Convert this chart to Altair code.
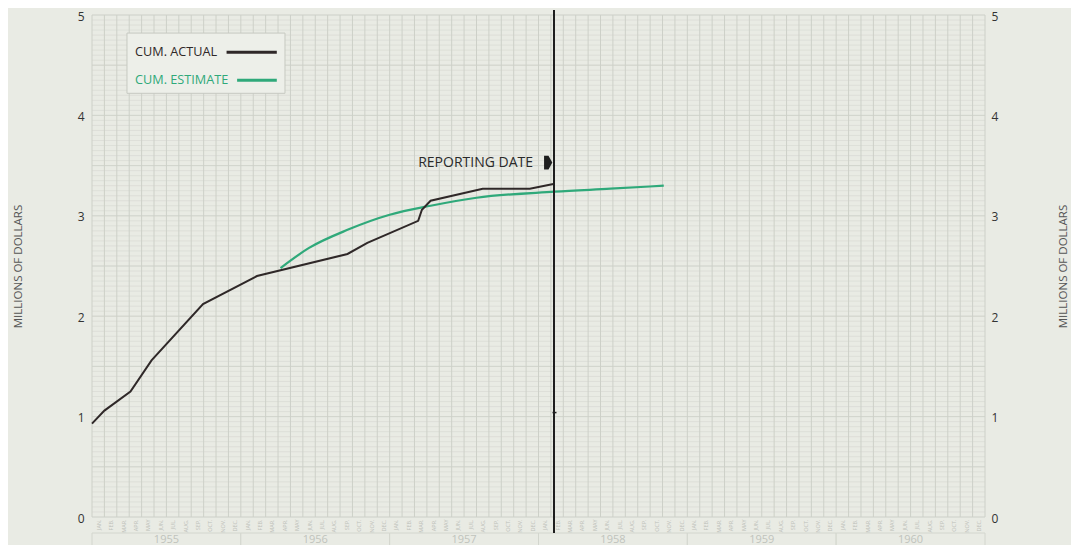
import altair as alt
import pandas as pd
import numpy as np

# ---- data ----
actual_month = [0, 1, 3.1, 4.8, 8.95, 13.3, 20.6, 22.2, 26.3, 26.6, 27.3, 31.5, 35.3, 37.3]
actual_value = [0.93, 1.06, 1.25, 1.56, 2.12, 2.40, 2.62, 2.73, 2.95, 3.06, 3.15, 3.27, 3.27, 3.32]

est_month = [15.2, 17.5, 20.6, 24.0, 27.3, 31.0, 37.3, 41.8, 46.1]
est_value = [2.48, 2.68, 2.86, 3.01, 3.10, 3.18, 3.24, 3.27, 3.30]

years = ["1955", "1956", "1957", "1958", "1959", "1960"]
month_names = ["JAN.", "FEB.", "MAR.", "APR.", "MAY", "JUN.", "JUL.", "AUG.", "SEP.", "OCT.", "NOV.", "DEC."]
y_ticks = [0, 1, 2, 3, 4, 5]
reporting_month = 37.25

BG = "#e9ebe4"
FONT = "Open Sans"
GREEN = "#2fa97a"
DARK = "#2f2828"

x_scale = alt.Scale(domain=[0, 72], nice=False, zero=False)
y_scale = alt.Scale(domain=[0, 5], nice=False)

actual_df = pd.DataFrame({"m": actual_month, "v": actual_value})
est_df = pd.DataFrame({"m": est_month, "v": est_value})
vgrid_df = pd.DataFrame({"m": np.arange(0, 73)})
hgrid_df = pd.DataFrame({"v": np.round(np.arange(0, 5.0001, 0.05), 3)})
hmajor_df = pd.DataFrame({"v": np.arange(0, 5.0001, 0.5)})
year_df = pd.DataFrame({"year": years, "s": [12 * i for i in range(6)], "e": [12 * i + 12 for i in range(6)]})
year_df["c"] = year_df["s"] + 6
month_tick_vals = [i + 0.5 for i in range(72)]
labels_js = "[" + ",".join("'%s'" % m for m in month_names) + "]"

x_axis = alt.Axis(values=month_tick_vals, labelExpr=labels_js + "[floor(datum.value) % 12]",
                  labelAngle=270, labelFontSize=5.5, labelColor="#bdc0b9", labelFont=FONT,
                  labelPadding=2, ticks=False, domain=False, grid=False, title=None,
                  labelOverlap=False, labelFlush=False)

y_axis = alt.Axis(values=y_ticks, format="d", orient="left", ticks=False, domain=False,
                  grid=False, labelFontSize=12, labelColor="#333333", labelFont=FONT,
                  labelPadding=8, labelOffset=1, title="MILLIONS OF DOLLARS", titleFont=FONT,
                  titleFontSize=11.5, titleFontWeight="normal", titleColor="#555555",
                  titlePadding=54)

X = lambda f: alt.X(f, scale=x_scale, axis=x_axis)
Y = lambda f: alt.Y(f, scale=y_scale, axis=y_axis)

vgrid = alt.Chart(vgrid_df).mark_rule(color="#cdd0c8", strokeWidth=1).encode(x=X("m:Q"))

hgrid = alt.Chart(hgrid_df).mark_rule(color="#dadcd5", strokeWidth=0.8).encode(y=Y("v:Q"))

hmajor = alt.Chart(hmajor_df).mark_rule(color="#d2d5cd", strokeWidth=1).encode(y=Y("v:Q"))

years_box = alt.Chart(year_df).mark_rect(fill=BG, stroke="#d3d6ce", strokeWidth=1).encode(
    x=X("s:Q"), x2="e:Q", y=alt.value(518), y2=alt.value(560))

years_text = alt.Chart(year_df).mark_text(font=FONT, fontSize=11, color="#c0c3bc", baseline="top").encode(
    x=X("c:Q"), y=alt.value(519), text="year:N")

est_line = alt.Chart(est_df).mark_line(color=GREEN, strokeWidth=2.2, interpolate="monotone").encode(
    x=X("m:Q"), y=Y("v:Q"))

act_line = alt.Chart(actual_df).mark_line(color=DARK, strokeWidth=2).encode(
    x=X("m:Q"), y=Y("v:Q"))

rep_df = pd.DataFrame({"m": [reporting_month]})
rep_rule = alt.Chart(rep_df).mark_rule(color="#1e1e1e", strokeWidth=2).encode(
    x=X("m:Q"), y=alt.value(-5), y2=alt.value(518))

rep_tick_df = pd.DataFrame({"m": [reporting_month - 0.12], "m2": [reporting_month + 0.2], "v": [1.04]})
rep_tick = alt.Chart(rep_tick_df).mark_rule(color="#1e1e1e", strokeWidth=1.5).encode(
    x=X("m:Q"), x2="m2:Q", y=Y("v:Q"))

rep_text_df = pd.DataFrame({"m": [35.56], "v": [3.525], "t": ["REPORTING  DATE"]})
rep_text = alt.Chart(rep_text_df).mark_text(font=FONT, fontSize=14, color="#2a2a2a", align="right",
                                              baseline="middle").encode(
    x=X("m:Q"), y=Y("v:Q"), text="t:N")

arrow_df = pd.DataFrame({"m": [36.78], "v": [3.53]})
arrow = alt.Chart(arrow_df).mark_point(
    shape="M-0.6,-1L0.05,-1L0.6,0L0.05,1L-0.6,1Z", size=190, filled=True, color="#1e1e1e",
    opacity=1, strokeWidth=0).encode(x=X("m:Q"), y=Y("v:Q"))

# legend (drawn by hand: text left, line right)
leg_box_df = pd.DataFrame({"m": [2.82], "m2": [15.56], "v": [4.82], "v2": [4.22]})
leg_box = alt.Chart(leg_box_df).mark_rect(fill="#edefe9", stroke="#c6c9c1", strokeWidth=1).encode(
    x=X("m:Q"), x2="m2:Q", y=Y("v:Q"), y2="v2:Q")

leg_df = pd.DataFrame({"label": ["CUM. ACTUAL", "CUM. ESTIMATE"],
                       "m": [3.47, 3.47], "v": [4.63, 4.35],
                       "l1": [10.85, 11.7], "l2": [14.9, 14.9],
                       "col": [DARK, GREEN]})
leg_text = alt.Chart(leg_df).mark_text(font=FONT, fontSize=12.7, align="left", baseline="middle").encode(
    x=X("m:Q"), y=Y("v:Q"), text="label:N", color=alt.Color("col:N", scale=None))
leg_lines = alt.Chart(leg_df).mark_rule(strokeWidth=3).encode(
    x=X("l1:Q"), x2="l2:Q", y=Y("v:Q"), color=alt.Color("col:N", scale=None))

main = alt.layer(hgrid, hmajor, vgrid, years_box, years_text, est_line, act_line, rep_rule, rep_tick,
                 rep_text, arrow, leg_box, leg_text, leg_lines)

right_df = pd.DataFrame({"v": [0, 5]})
right = alt.Chart(right_df).mark_point(opacity=0).encode(
    y=alt.Y("v:Q", scale=y_scale,
            axis=alt.Axis(values=y_ticks, format="d", orient="right", ticks=False, domain=False,
                          grid=False, labelFontSize=12, labelColor="#333333", labelFont=FONT,
                          labelPadding=6, labelOffset=1, title="MILLIONS OF DOLLARS", titleFont=FONT,
                          titleFontSize=11.5, titleFontWeight="normal", titleColor="#555555",
                          titlePadding=71, titleAngle=270)))

chart = alt.layer(main, right).resolve_scale(y="independent").properties(
    width=893, height=502, background=BG,
    autosize=alt.AutoSizeParams(type="none"),
    padding={"left": 84, "top": 7, "right": 86, "bottom": 28},
).configure_view(stroke=None)

chart.save("out.html", embed_options={"renderer": "svg", "actions": False})
